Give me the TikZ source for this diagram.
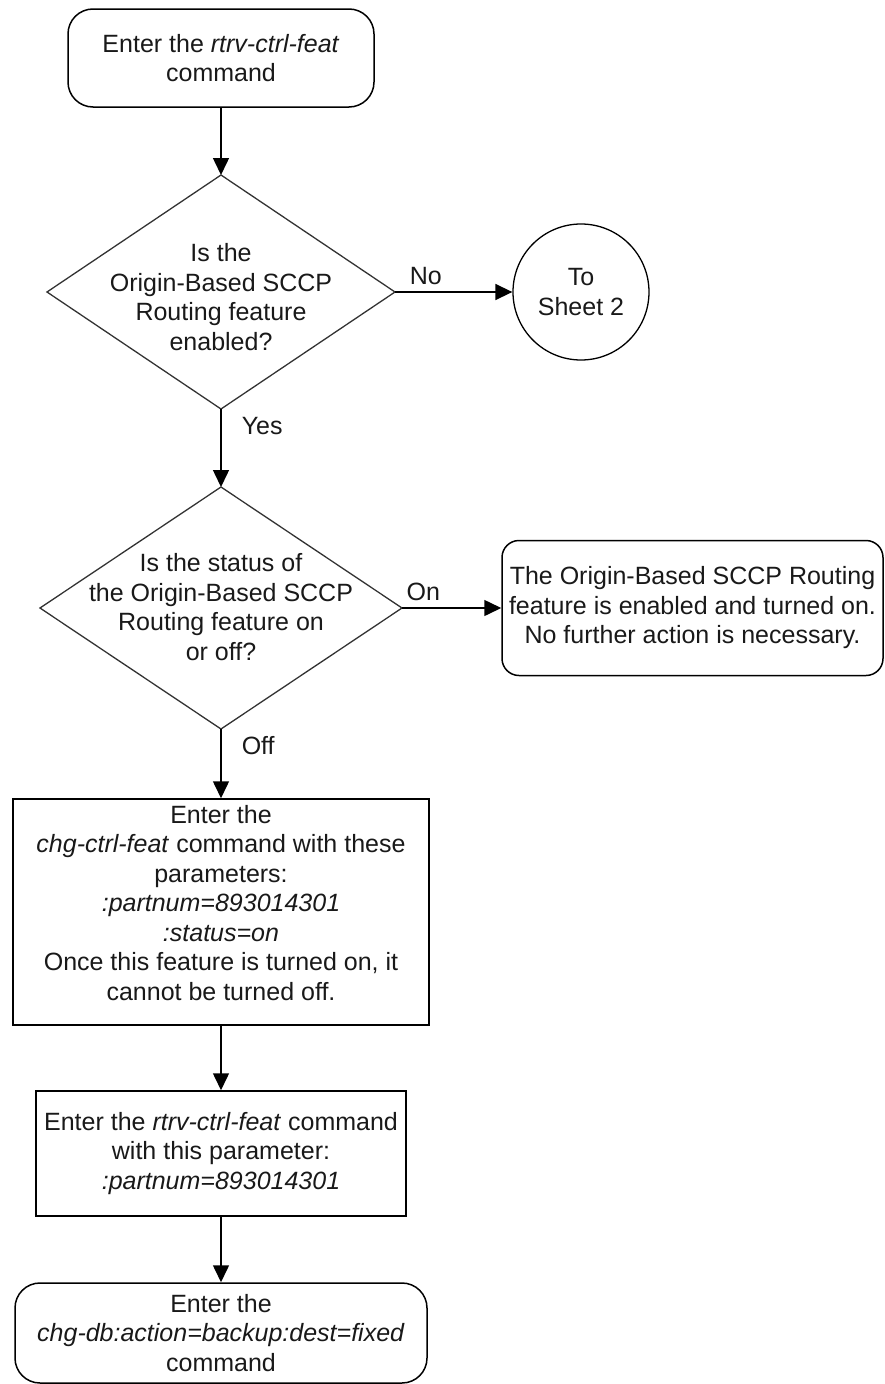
\documentclass[tikz,border=0pt]{standalone}
\usepackage{fontspec}
\setmainfont{Liberation Sans}
\usetikzlibrary{shapes.geometric,arrows.meta}
\begin{document}
\begin{tikzpicture}[x=1pt,y=-1pt,
  every node/.style={font=\fontsize{25}{29.5}\selectfont, align=center, inner sep=0pt, text=black!90},
  rbox/.style={draw, line width=1.5pt, rounded corners=25pt},
  sbox/.style={draw, line width=1.5pt},
  dec/.style={draw=black!80, line width=1.3pt, shape=diamond, inner sep=0pt, outer sep=0pt},
  conn/.style={circle, draw, line width=1.3pt},
  arr/.style={line width=1.5pt, -{Triangle[length=17pt,width=16pt]}},
  lbl/.style={font=\fontsize{25}{29.5}\selectfont}
]
\useasboundingbox (0,0) rectangle (885,1384);

\node[rbox, minimum width=306pt, minimum height=98pt] (start) at (221,58)
  {Enter the \textit{rtrv-ctrl-feat}\\command};

\node[dec, minimum width=348pt, minimum height=234pt] (d1) at (221,292) {};
\node (d1t) at (221,297) {Is the\\Origin-Based SCCP\\Routing feature\\enabled?};

\node[conn, minimum size=136pt] (s2) at (581,292) {To\\Sheet 2};

\node[dec, minimum width=362pt, minimum height=242pt] (d2) at (221,608) {};
\node (d2t) at (221,607) {Is the status of\\the Origin-Based SCCP\\Routing feature on\\or off?};

\node[rbox, rounded corners=17pt, minimum width=381pt, minimum height=135pt] (done) at (692.5,608)
  {The Origin-Based SCCP Routing\\feature is enabled and turned on.\\No further action is necessary.};

\node[sbox, minimum width=416pt, minimum height=226pt] (chg) at (221,912) {};
\node (chgt) at (221,903)
  {Enter the\\\textit{chg-ctrl-feat} command with these\\parameters:\\\textit{:partnum=893014301}\\\textit{:status=on}\\Once this feature is turned on, it\\cannot be turned off.};

\node[sbox, minimum width=370pt, minimum height=125pt] (rtrv) at (221,1153.5)
  {Enter the \textit{rtrv-ctrl-feat} command\\with this parameter:\\\textit{:partnum=893014301}};

\node[rbox, minimum width=412pt, minimum height=100pt] (bk) at (221,1333)
  {Enter the\\\textit{chg-db:action=backup:dest=fixed}\\command};

\draw[arr] (start.south) -- (d1.north);
\draw[arr] (d1.east) -- node[lbl, pos=0.12, anchor=south west, yshift=7pt] (lno) {No} (s2.west);
\draw[arr] (d1.south) -- node[lbl, pos=0.1, anchor=north west, xshift=20pt] (lyes) {Yes} (d2.north);
\draw[arr] (d2.east) -- node[lbl, pos=0.04, anchor=south west, yshift=7pt] (lon) {On} (d2.east -| done.west);
\draw[arr] (d2.south) -- node[lbl, pos=0.1, anchor=north west, xshift=20pt] (loff) {Off} (chg.north);
\draw[arr] (chg.south) -- (rtrv.north);
\draw[arr] (rtrv.south) -- (bk.north);
\end{tikzpicture}
\end{document}
